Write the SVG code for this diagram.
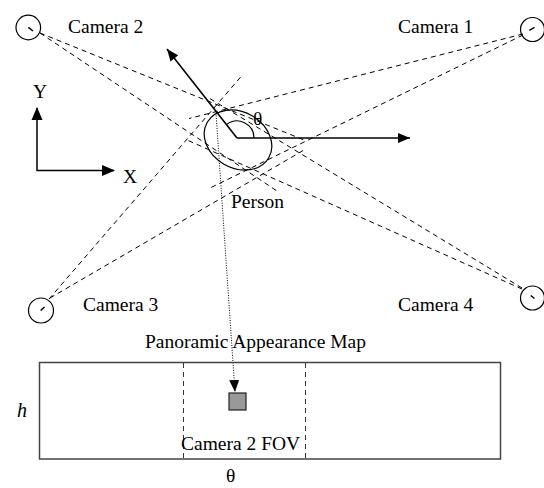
<svg xmlns="http://www.w3.org/2000/svg" width="544" height="488" viewBox="0 0 544 488">
<defs>
<style>
text{font-family:"Liberation Serif","Times New Roman",serif;font-size:19.5px;fill:#000}
.cam{fill:none;stroke:#000;stroke-width:1.2}
.tick{stroke:#000;stroke-width:1.5}
.fov{stroke:#000;stroke-width:1;stroke-dasharray:5 4;fill:none}
.arr{stroke:#000;stroke-width:1.6;fill:none}
</style>
<marker id="ah" viewBox="0 0 12 10" refX="12" refY="5" markerWidth="12" markerHeight="10" orient="auto" markerUnits="userSpaceOnUse"><path d="M0,0 L12,5 L0,10 z" fill="#000"/></marker>
</defs>
<rect width="544" height="488" fill="#fff"/>
<g id="connectors">
<line class="fov" x1="40" y1="33" x2="304" y2="140"/>
<line class="fov" x1="40" y1="33" x2="277" y2="191"/>
<line class="fov" x1="523" y1="34" x2="189" y2="118.5"/>
<line class="fov" x1="523" y1="35" x2="208" y2="189"/>
<line class="fov" x1="49" y1="299" x2="242" y2="75.5"/>
<line class="fov" x1="50" y1="298" x2="304" y2="150"/>
<line class="fov" x1="522" y1="288" x2="209" y2="98"/>
<line class="fov" x1="522" y1="289" x2="187" y2="140"/>
<line x1="216" y1="113" x2="235" y2="392" stroke="#000" stroke-width="1" stroke-dasharray="1 1.5" marker-end="url(#ah)"/>
</g>
<g id="camera2"><circle class="cam" cx="28.3" cy="27.5" r="12.3"/><line class="tick" x1="28.3" y1="27.3" x2="33" y2="31"/><text x="68" y="33">Camera 2</text></g>
<g id="camera1"><circle class="cam" cx="532.5" cy="29.5" r="12"/><line class="tick" x1="529.3" y1="30.3" x2="534.5" y2="27.3"/><text x="398" y="33">Camera 1</text></g>
<g id="camera3"><circle class="cam" cx="41" cy="310.5" r="12.5"/><line class="tick" x1="40.7" y1="310.5" x2="44.5" y2="307"/><text x="83" y="311">Camera 3</text></g>
<g id="camera4"><circle class="cam" cx="532.5" cy="298" r="12"/><line class="tick" x1="530.7" y1="295.5" x2="534.5" y2="298.5"/><text x="398" y="311">Camera 4</text></g>
<g id="axes">
<polyline class="arr" points="37,108 37,170.5 114,170.5" style="stroke-width:1.5"/>
<path d="M37,107 L31.5,120 L42.5,120 z"/>
<path d="M115,170.5 L102,165 L102,176 z"/>
<text x="33" y="98">Y</text>
<text x="123" y="183">X</text>
</g>
<g id="person">
<ellipse cx="238" cy="140" rx="35.5" ry="28" transform="rotate(30 238 140)" fill="none" stroke="#000" stroke-width="1.2"/>
<line class="arr" x1="237" y1="138" x2="410" y2="138" marker-end="url(#ah)"/>
<line class="arr" x1="237" y1="138" x2="167" y2="49" marker-end="url(#ah)"/>
<path d="M254,138 A17,17 0 0 0 226.5,124.6" fill="none" stroke="#000" stroke-width="1.2"/>
<text x="253" y="125">θ</text>
<text x="231" y="208">Person</text>
</g>
<g id="map">
<text x="145" y="348">Panoramic Appearance Map</text>
<rect x="39.5" y="362.5" width="461" height="96.5" fill="none" stroke="#444" stroke-width="1.5"/>
<line class="fov" x1="183.5" y1="363" x2="183.5" y2="459" style="stroke:#333"/>
<line class="fov" x1="305.5" y1="363" x2="305.5" y2="459" style="stroke:#333"/>
<rect x="229" y="393" width="17" height="17" fill="#999" stroke="#222" stroke-width="1.2"/>
<text x="181" y="450">Camera 2 FOV</text>
<text x="17" y="417" font-style="italic" style="font-size:20px">h</text>
<text x="226" y="482">θ</text>
</g>
</svg>
